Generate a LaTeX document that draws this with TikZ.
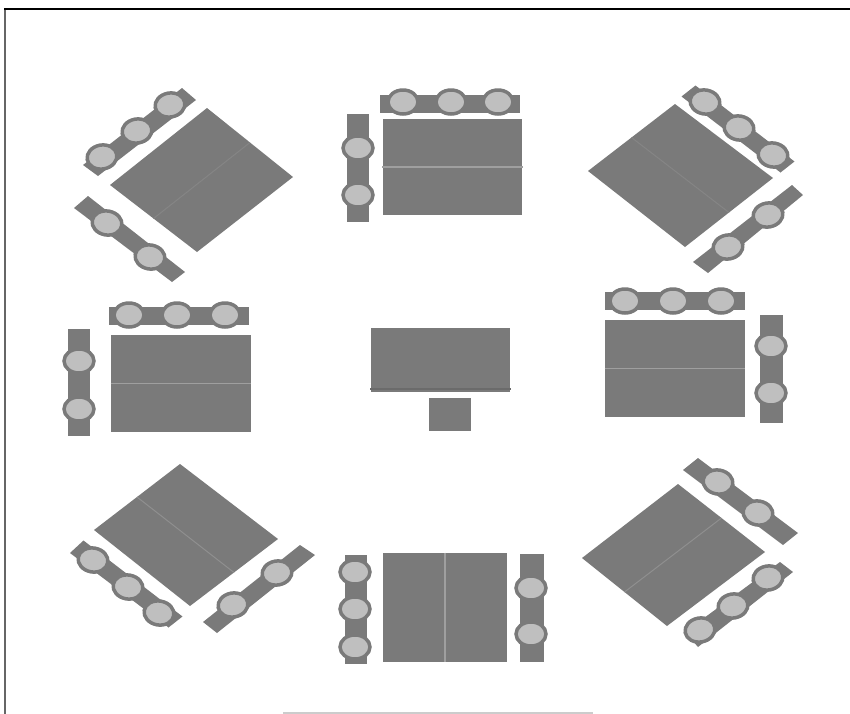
\documentclass[tikz,border=0pt]{standalone}
\usepackage{xcolor}
\usepackage{tikz}
\usetikzlibrary{positioning, shapes.geometric}

\definecolor{tablegray}{gray}{0.48}
\definecolor{seatgray}{gray}{0.75}

\begin{document}
\begin{tikzpicture}[x=0.02cm, y=-0.02cm]
      \tikzstyle{tablebox}=[rectangle, fill=tablegray, inner sep=0pt, minimum width=2.8cm, minimum height=1.94cm]
      \tikzstyle{bench}=[rectangle, fill=tablegray, inner sep=0pt, minimum width=2.8cm, minimum height=0.36cm]
      \tikzstyle{sidebench}=[bench, rotate=90, minimum width=2.16cm, minimum height=0.46cm]
      \tikzstyle{tiltfill}=[fill=tablegray]
      \tikzstyle{seat}=[ellipse, draw=tablegray, line width=0.07cm, fill=seatgray, inner sep=0pt, minimum width=0.6cm, minimum height=0.48cm]
      \tikzstyle{divider}=[gray!75, line width=0.03cm]
      \tikzstyle{faintline}=[gray!88, line width=0.02cm]
      \tikzstyle{fainterline}=[gray!96, line width=0.02cm]
      \useasboundingbox (0,0) rectangle (850,714);
      \draw[black!60, line width=0.04cm] (5,714) -- (5,9);
      \draw[black, line width=0.03cm] (4,9) -- (850,9);
      \draw[gray!40, line width=0.03cm] (283,713) -- (593,713);
      % top row
      \fill[tiltfill] (207,108) -- (293,177) -- (197,252) -- (110,185) -- cycle;
      \fill[tiltfill] (83,165) -- (98,176) -- (196,100) -- (182,88) -- cycle;
      \fill[tiltfill] (74,208) -- (88,196) -- (185,272) -- (172,282) -- cycle;
      \draw[fainterline] (250,142.5) -- (153.5,218.5);
      \node[tablebox] (tabletm) at (452.5,167) {};
      \node[bench] (benchtma) at (450,103.5) {};
      \node[sidebench] (benchtmb) at (358,168) {};
      \draw[divider] (tabletm.west) -- (tabletm.east);
      \fill[tiltfill] (675,104) -- (773,178) -- (685,247) -- (588,171) -- cycle;
      \fill[tiltfill] (681.5,96.5) -- (695.5,85.5) -- (794.5,161.5) -- (780.5,172.5) -- cycle;
      \fill[tiltfill] (693,262) -- (708,273) -- (803,195) -- (792,185) -- cycle;
      \draw[fainterline] (631.5,137.5) -- (729,212.5);
      % middle row
      \node[tablebox] (tableml) at (181,383.5) {};
      \node[bench] (benchmla) at (179,315.5) {};
      \node[sidebench] (benchmlb) at (79,382.5) {};
      \draw[divider] (tableml.west) -- (tableml.east);
      \node[tablebox, minimum height=1.28cm] (tablemm) at (440.5,360) {};
      \draw[black!58, line width=0.03cm] ([yshift=0.07cm]tablemm.south west) -- ([yshift=0.07cm]tablemm.south east);
      \node[tablebox, minimum width=0.84cm, minimum height=0.66cm] (stoolmm) at (450,414.5) {};
      \node[tablebox] (tablemr) at (675,368.5) {};
      \node[bench] (benchmra) at (675,301) {};
      \node[sidebench] (benchmrb) at (771,369) {};
      \draw[divider] (tablemr.west) -- (tablemr.east);
      % bottom row
      \fill[tiltfill] (180,464) -- (278,539) -- (190,606) -- (94,530) -- cycle;
      \fill[tiltfill] (70,553) -- (83.5,540.5) -- (182.5,616.5) -- (168.5,627.5) -- cycle;
      \fill[tiltfill] (203,622) -- (217,633) -- (315,555) -- (300,545) -- cycle;
      \draw[faintline] (137,497) -- (234,572.5);
      \node[tablebox, minimum width=2.48cm, minimum height=2.18cm] (tablebm) at (445,607.5) {};
      \node[sidebench, minimum width=2.18cm, minimum height=0.44cm] (benchbma) at (356,609.5) {};
      \node[sidebench, minimum height=0.48cm] (benchbmb) at (532,608) {};
      \draw[divider] (tablebm.north) -- (tablebm.south);
      \fill[tiltfill] (678,484) -- (765,552) -- (667,626) -- (582,558) -- cycle;
      \fill[tiltfill] (683,470) -- (698,458) -- (798,533) -- (783,545) -- cycle;
      \fill[tiltfill] (685,632) -- (698,647) -- (793,572) -- (780,562) -- cycle;
      \draw[faintline] (721.5,518) -- (624.5,592);
      \foreach \name/\x/\y/\r in {
          tla/102/157/10, tlb/137/131/10, tlc/170/105/10, tld/107/223/-10, tle/150/257/-10,
          tma/403/102/0, tmb/451/102/0, tmc/498/102/0, tmd/358/148/0, tme/358/195/0,
          tra/705/102/-10, trb/739/128/-10, trc/773/155/-10, trd/728/247/10, tre/768/215/10,
          mla/129/315/0, mlb/177/315/0, mlc/225/315/0, mld/79/361/0, mle/79/409/0,
          mra/625/301/0, mrb/673/301/0, mrc/721/301/0, mrd/771/346/0, mre/771/393/0,
          bla/93/560/-10, blb/128/587/-10, blc/159/613/-10, bld/233/605/10, ble/277/573/10,
          bma/355/572/0, bmb/355/609/0, bmc/355/647/0, bmd/531/588/0, bme/531/634/0,
          bra/718/482/-10, brb/758/513/-10, brc/700/630/10, brd/733/606/10, bre/768/578/10}
        \node[seat, rotate=\r] (seat\name) at (\x,\y) {};
    \end{tikzpicture}
\end{document}
